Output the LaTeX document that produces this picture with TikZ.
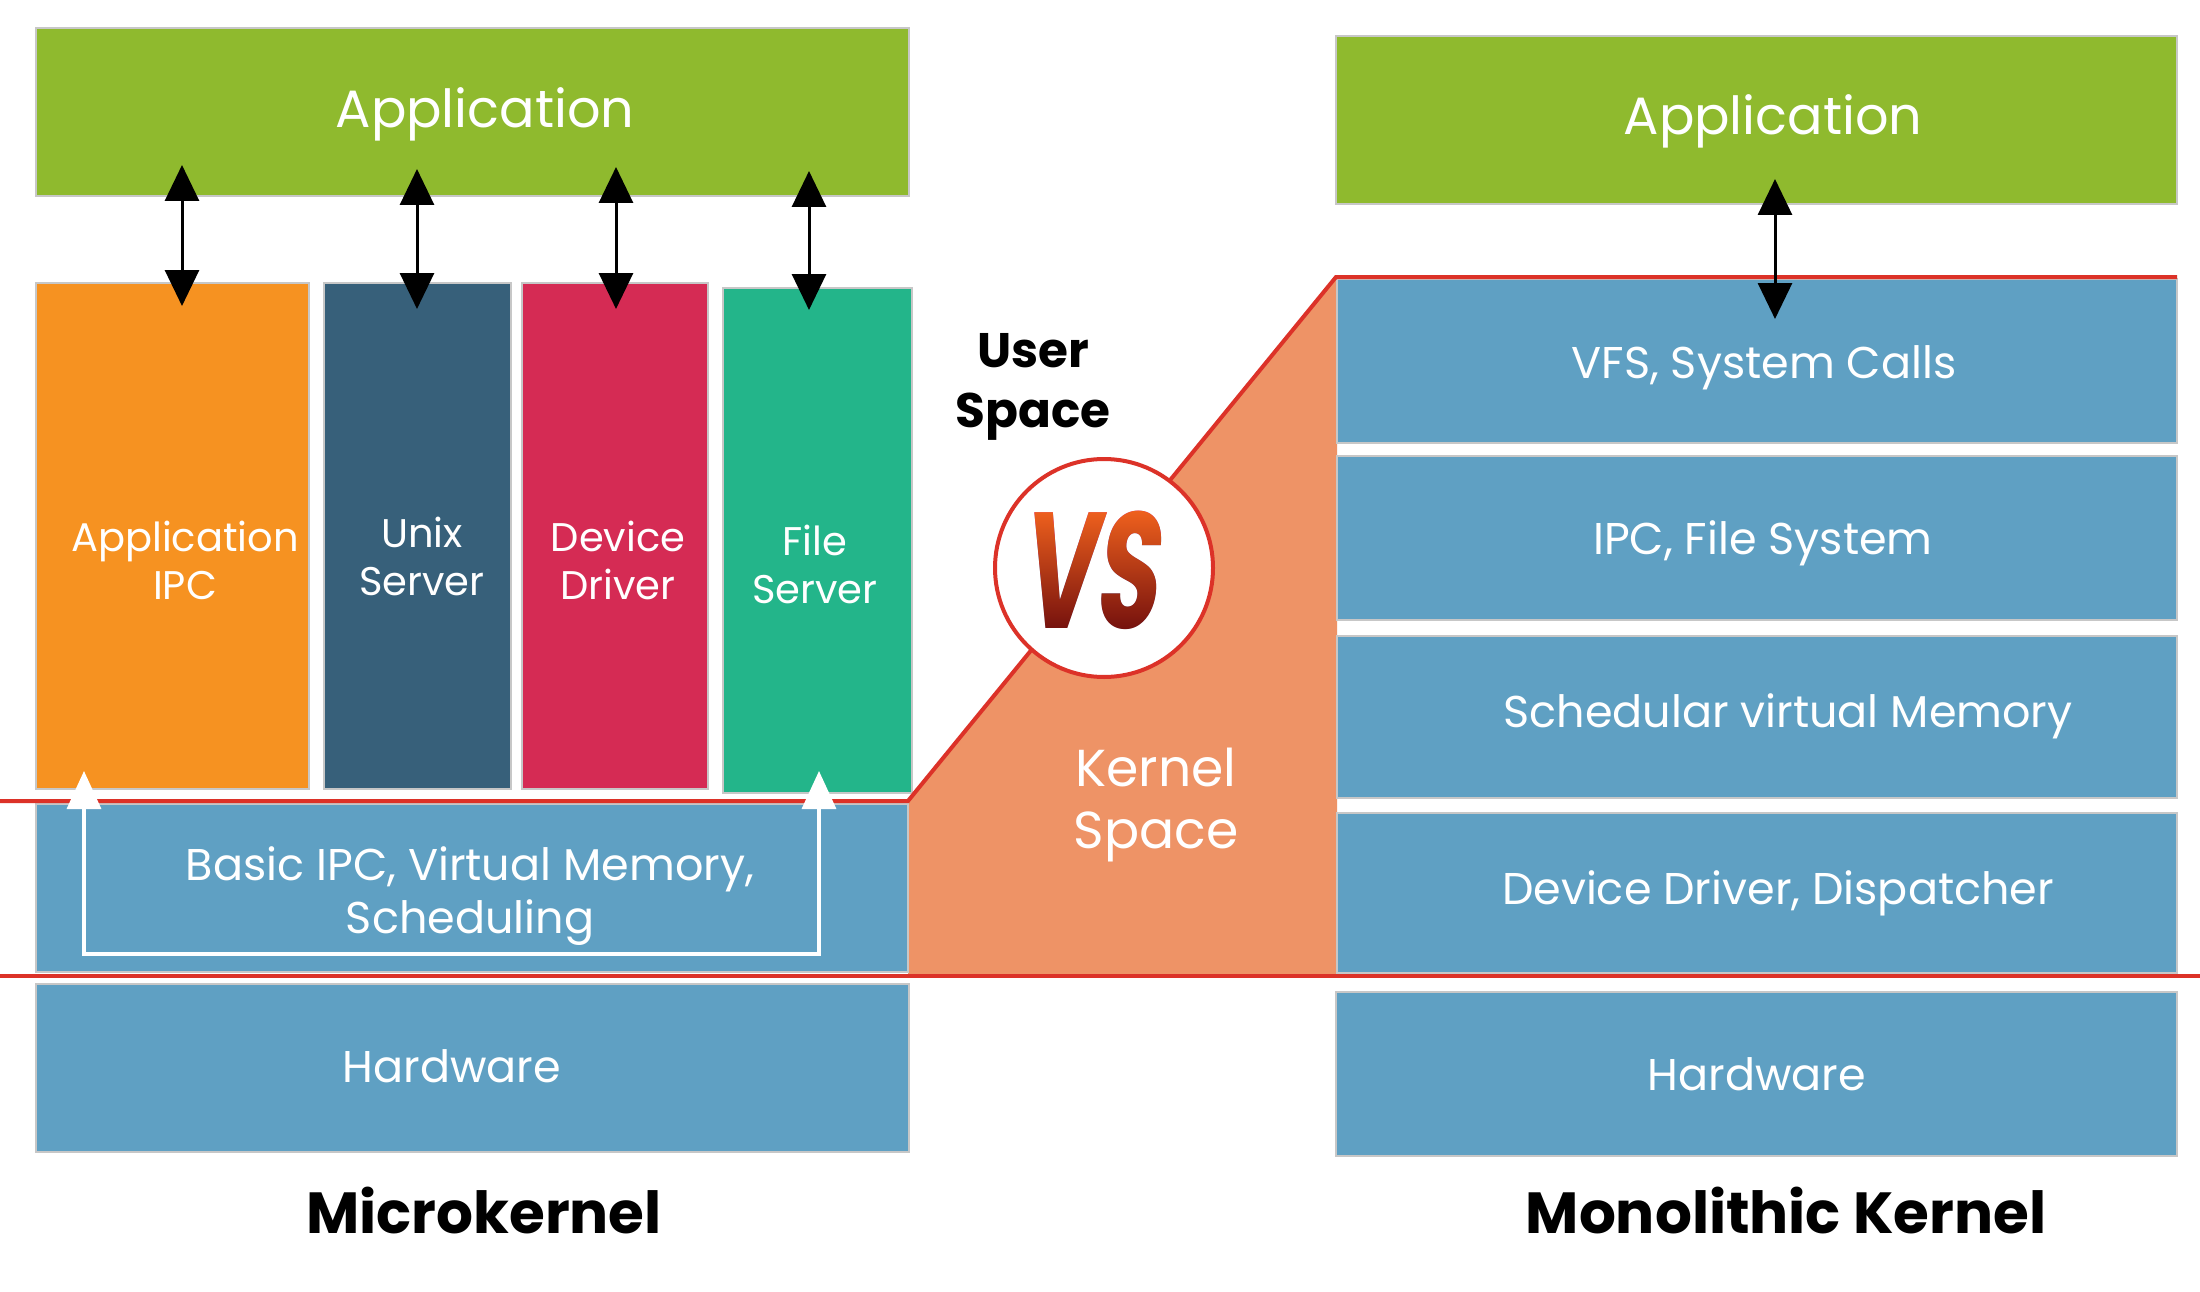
\documentclass[tikz,border=0pt]{standalone}
\usepackage{fontspec}
\setmainfont{Poppins}
\newfontfamily\VSFam[FakeSlant=0.2]{Poppins}
\usetikzlibrary{arrows.meta,calc}

\definecolor{appgreen}{HTML}{8FBA2E}
\definecolor{colorange}{HTML}{F69221}
\definecolor{colslate}{HTML}{37607A}
\definecolor{colcrimson}{HTML}{D52B54}
\definecolor{colteal}{HTML}{23B58A}
\definecolor{layblue}{HTML}{5FA0C3}
\definecolor{ksalmon}{HTML}{EE9366}
\definecolor{redln}{HTML}{DC3228}
\definecolor{vsTop}{HTML}{F4641E}
\definecolor{vsMid}{HTML}{D8201A}
\definecolor{vsBot}{HTML}{6A0A0C}

\newcommand\FBig{\fontsize{52.5}{62}\selectfont}
\newcommand\FKs{\fontsize{52}{62}\selectfont}
\newcommand\FCol{\fontsize{40}{48}\selectfont}
\newcommand\FMed{\fontsize{44.5}{53}\selectfont}
\newcommand\FTitle{\bfseries\fontsize{58}{66}\selectfont}
\newcommand\FUser{\bfseries\fontsize{48.5}{60}\selectfont}
\newcommand\VSFont{\VSFam\bfseries\fontsize{165}{165}\selectfont}

\begin{document}
\begin{tikzpicture}[x=1pt, y=-1pt,
  box/.style={draw=black!22, line width=1.2pt, inner sep=0pt, outer sep=0pt},
  txt/.style={text=white, inner sep=0pt},
  ttl/.style={text=black, inner sep=0pt},
  vsl/.style={font=\VSFont, inner sep=0pt},
  dbl/.style={line width=3pt, black, {Triangle[width=34pt,length=36pt]}-{Triangle[width=34pt,length=36pt]}},
  wht/.style={line width=3.5pt, white, {Triangle[width=34pt,length=38pt]}-{Triangle[width=34pt,length=38pt]}},
  redline/.style={draw=redln, line width=4pt}]
\useasboundingbox (0,0) rectangle (2200,1292);
\fill[white] (0,0) rectangle (2200,1292);

% kernel space region
\fill[ksalmon] (908,801) -- (1337,277) -- (1337,977) -- (908,977) -- cycle;

% microkernel side
\node[box, fill=appgreen, minimum width=873pt, minimum height=168pt] (appL) at (472.5,112) {};
\node[box, fill=colorange, minimum width=273pt, minimum height=506pt] (ipc) at (172.5,536) {};
\node[box, fill=colslate, minimum width=187pt, minimum height=506pt] (unix) at (417.5,536) {};
\node[box, fill=colcrimson, minimum width=186pt, minimum height=506pt] (dev) at (615,536) {};
\node[box, fill=colteal, minimum width=189pt, minimum height=505pt] (fs) at (817.5,540.5) {};
\node[box, fill=layblue, minimum width=872pt, minimum height=168pt] (kern) at (472,888) {};
\node[box, fill=layblue, minimum width=873pt, minimum height=168pt] (hwL) at (472.5,1068) {};

% monolithic side
\node[box, fill=appgreen, minimum width=841pt, minimum height=168pt] (appR) at (1756.5,120) {};
\node[box, fill=layblue, minimum width=840pt, minimum height=164pt] (vfs) at (1757,361) {};
\node[box, fill=layblue, minimum width=840pt, minimum height=164pt] (ipcb) at (1757,538) {};
\node[box, fill=layblue, minimum width=840pt, minimum height=162pt] (schb) at (1757,717) {};
\node[box, fill=layblue, minimum width=840pt, minimum height=160pt] (ddb) at (1757,893) {};
\node[box, fill=layblue, minimum width=841pt, minimum height=164pt] (hwR) at (1756.5,1074) {};

% user/kernel boundary lines
\draw[redline] (0,801) -- (908,801) -- (1336,277) -- (2177,277);
\draw[redline] (0,976) -- (2200,976);

% arrows
\draw[dbl] ($(appL.south west)+(146,-31)$) -- ($(ipc.north west)+(146,23)$);
\draw[dbl] ($(appL.south west)+(381,-27)$) -- ($(unix.north west)+(93,26)$);
\draw[dbl] ($(appL.south west)+(580,-29)$) -- ($(dev.north west)+(94,26)$);
\draw[dbl] ($(appL.south west)+(773,-25)$) -- ($(fs.north west)+(86,22)$);
\draw[dbl] ($(appR.south west)+(439,-25)$) -- ($(vfs.north west)+(438,40)$);
\draw[wht] ($(kern.north west)+(48,-33)$) -- ++(0,183) -| ($(kern.north west)+(783,-33)$);

% VS badge
\node[circle, draw=redln, line width=4pt, fill=white, minimum size=218pt, inner sep=0pt] (vs) at (1104,568) {};
\node[vsl, text=vsBot, anchor=base] (vsT) at (1088,628) {\scalebox{0.62}[1]{VS}};
\begin{scope}
  \clip (vs.center) circle[radius=102pt];
  \shade[blend mode=lighten, top color=vsTop, middle color=vsMid, bottom color=vsBot]
    (995,505) rectangle (1213,640);
\end{scope}

% texts
\node[txt, anchor=base, font=\FBig] (tAppL) at (485,128) {Application};
\node[txt, anchor=base, font=\FBig] (tAppR) at (1773,135) {Application};
\node[txt, align=center, font=\FCol] (tIpc) at (185,560.5) {Application\\IPC};
\node[txt, align=center, font=\FCol] (tUnix) at (422,556) {Unix\\Server};
\node[txt, align=center, font=\FCol] (tDev) at (618,560.5) {Device\\Driver};
\node[txt, align=center, font=\FCol] (tFs) at (815,564.5) {File\\Server};
\node[txt, align=center, font=\FMed] (tKern) at (470,896) {Basic IPC, Virtual Memory,\\Scheduling};
\node[txt, anchor=base, font=\FMed] (tHwL) at (452,1082.5) {Hardware};
\node[txt, anchor=base, font=\FMed] (tVfs) at (1764,378.5) {VFS, System Calls};
\node[txt, anchor=base, font=\FMed] (tIpcb) at (1763,554.5) {IPC, File System};
\node[txt, anchor=base, font=\FMed] (tSch) at (1788,727.5) {Schedular virtual Memory};
\node[txt, anchor=base, font=\FMed] (tDd) at (1778,904.5) {Device Driver, Dispatcher};
\node[txt, anchor=base, font=\FMed] (tHwR) at (1757,1090.5) {Hardware};
\node[txt, align=center, font=\FKs] (tKs) at (1156,805.5) {Kernel\\Space};
\node[ttl, align=center, font=\FUser] (tUs) at (1033,387) {User\\Space};
\node[ttl, anchor=base, font=\FTitle] (tMicro) at (484,1233.5) {Microkernel};
\node[ttl, anchor=base, font=\FTitle] (tMono) at (1786,1233.5) {Monolithic Kernel};
\end{tikzpicture}
\end{document}
